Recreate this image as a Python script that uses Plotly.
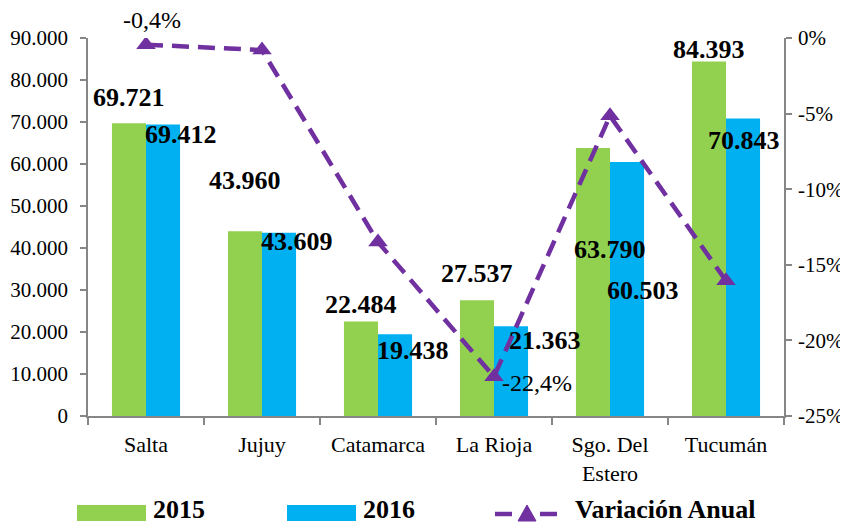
import plotly.graph_objects as go

provincias = ["Salta", "Jujuy", "Catamarca", "La Rioja", "Sgo. Del<br>Estero", "Tucumán"]
valores_2015 = [69721, 43960, 22484, 27537, 63790, 84393]
valores_2016 = [69412, 43609, 19438, 21363, 60503, 70843]
variacion = [-0.0044, -0.008, -0.135, -0.224, -0.0515, -0.1606]

left_tickvals = [0, 10000, 20000, 30000, 40000, 50000, 60000, 70000, 80000, 90000]
left_ticktext = ["0", "10.000", "20.000", "30.000", "40.000", "50.000", "60.000", "70.000", "80.000", "90.000"]
right_tickvals = [0, -0.05, -0.10, -0.15, -0.20, -0.25]
right_ticktext = ["0%", "-5%", "-10%", "-15%", "-20%", "-25%"]

def fmt_miles(v):
    return f"{v:,}".replace(",", ".")

def fmt_pct(v):
    return f"{v*100:.1f}%".replace(".", ",")

GREEN = "#92D050"
BLUE = "#00B0F0"
PURPLE = "#7030A0"
AXIS = "#868686"
FONT = "Liberation Serif"

# page has an 8px body margin; figure is sized so it fits the 848x522 window
OFF = 8
W, H = 840, 514
L, T = 88 - OFF, 38 - OFF
R = W - (784 - OFF)
B = H - (416 - OFF)
PW, PH = W - L - R, H - T - B

def px(x):
    return (x - OFF - L) / PW

def py(y):
    return (H - B - (y - OFF)) / PH

fig = go.Figure()
fig.add_trace(go.Bar(x=provincias, y=valores_2015, name="2015", marker_color=GREEN,
                     marker_line_width=0, showlegend=False))
fig.add_trace(go.Bar(x=provincias, y=valores_2016, name="2016", marker_color=BLUE,
                     marker_line_width=0, showlegend=False))
fig.add_trace(go.Scatter(x=provincias, y=variacion, name="Variación Anual", yaxis="y2",
                         mode="lines+markers",
                         line=dict(color=PURPLE, width=4.5, dash="17px,9px"),
                         marker=dict(symbol="triangle-up", size=17, color=PURPLE),
                         showlegend=False))

# label offsets in pixels (dx, dy) relative to bar top centre
off_2015 = [(0, 26), (0, 51), (0, 17), (0, 27), (17, -101), (0, 12)]
off_2016 = [(18, -10), (18, -9), (18, -16), (34, -14), (16, -129), (1, -22)]
half_bar = 17

bar_font = dict(family=FONT, size=26, color="black", weight="bold")
annotations = []
for cat, v, (dx, dy) in zip(provincias, valores_2015, off_2015):
    annotations.append(dict(x=cat, y=v, xref="x", yref="y", text=f"<b>{fmt_miles(v)}</b>", showarrow=False,
                            xshift=-half_bar + dx, yshift=dy, yanchor="middle", font=bar_font))
for cat, v, (dx, dy) in zip(provincias, valores_2016, off_2016):
    annotations.append(dict(x=cat, y=v, xref="x", yref="y", text=f"<b>{fmt_miles(v)}</b>", showarrow=False,
                            xshift=half_bar + dx, yshift=dy, yanchor="middle", font=bar_font))

# variation labels (only first and minimum shown)
pct_font = dict(family=FONT, size=24, color="black")
annotations.append(dict(x=provincias[0], y=variacion[0], xref="x", yref="y2", text=fmt_pct(variacion[0]),
                        showarrow=False, xshift=6, yshift=25, yanchor="middle", font=pct_font))
annotations.append(dict(x=provincias[3], y=variacion[3], xref="x", yref="y2", text=fmt_pct(variacion[3]),
                        showarrow=False, xshift=6, yshift=-6, xanchor="left", yanchor="middle", font=pct_font))

# manual legend
shapes = []
leg_y0, leg_y1 = 505, 521
shapes.append(dict(type="rect", xref="paper", yref="paper", x0=px(77), x1=px(146), y0=py(leg_y1), y1=py(leg_y0),
                   fillcolor=GREEN, line_width=0))
shapes.append(dict(type="rect", xref="paper", yref="paper", x0=px(287), x1=px(356), y0=py(leg_y1), y1=py(leg_y0),
                   fillcolor=BLUE, line_width=0))
for a, b in [(495, 512), (540, 557)]:
    shapes.append(dict(type="line", xref="paper", yref="paper", x0=px(a), x1=px(b), y0=py(514), y1=py(514),
                       line=dict(color=PURPLE, width=4.5)))
shapes.append(dict(type="path", xref="paper", yref="paper",
                   path=f"M {px(518)},{py(521)} L {px(536)},{py(521)} L {px(527)},{py(505)} Z",
                   fillcolor=PURPLE, line=dict(color=PURPLE, width=1)))
leg_font = dict(family=FONT, size=26, color="black", weight="bold")
for x0, txt in [(151, "2015"), (361, "2016"), (573, "Variación Anual")]:
    annotations.append(dict(x=px(x0), y=py(509), xref="paper", yref="paper", text=f"<b>{txt}</b>", showarrow=False,
                            xanchor="left", yanchor="middle", font=leg_font))

fig.update_layout(
    width=W, height=H,
    margin=dict(l=L, r=R, t=T, b=B, autoexpand=False),
    paper_bgcolor="white", plot_bgcolor="white",
    barmode="group", bargap=0.413, bargroupgap=0,
    font=dict(family=FONT, size=21, color="black"),
    showlegend=False,
    xaxis=dict(showline=True, linecolor=AXIS, linewidth=1.5, ticks="outside", tickson="boundaries",
               ticklen=7, tickcolor=AXIS, tickwidth=1.5, showgrid=False, zeroline=False, automargin=False,
               tickfont=dict(family=FONT, size=22, color="black"), ticklabelstandoff=8),
    yaxis=dict(range=[0, 90000], tickvals=left_tickvals, ticktext=left_ticktext, automargin=False,
               showline=True, linecolor=AXIS, linewidth=1.5, ticks="outside", ticklen=6,
               tickcolor=AXIS, tickwidth=1.5, showgrid=False, zeroline=False,
               tickfont=dict(family=FONT, size=21, color="black"), ticklabelstandoff=8),
    yaxis2=dict(range=[-0.25, 0], tickvals=right_tickvals, ticktext=right_ticktext, automargin=False,
                overlaying="y", side="right", showline=True, linecolor=AXIS, linewidth=1.5,
                ticks="outside", ticklen=6, tickcolor=AXIS, tickwidth=1.5, showgrid=False,
                zeroline=False, tickfont=dict(family=FONT, size=21, color="black"),
                ticklabelstandoff=2),
    annotations=annotations,
    shapes=shapes,
)

fig.write_html("out.html")
